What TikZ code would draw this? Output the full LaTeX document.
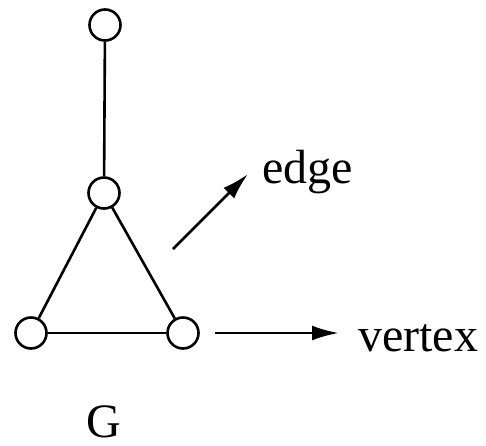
\documentclass[tikz,border=0pt]{standalone}
\usepackage{fontspec}
\setmainfont{Liberation Serif}
\usetikzlibrary{arrows.meta, positioning}

\tikzset{
  vertexnode/.style={circle, draw, line width=2.6pt, fill=white, minimum size=31pt, inner sep=0pt},
  graphedge/.style={line width=2.6pt},
  pointer/.style={line width=2.8pt, -{Latex[length=27pt, width=15pt]}},
  tag/.style={font=\fontsize{48}{50}\selectfont, inner sep=0pt}
}

\begin{document}
\begin{tikzpicture}[x=1pt, y=-1pt]
  \useasboundingbox (0,0) rectangle (486,445);
  % the graph
  \node[vertexnode] (vtop) at (105,25) {};
  \node[vertexnode] (vmid) at (104,193) {};
  \node[vertexnode] (vleft) at (31,333) {};
  \node[vertexnode] (vright) at (183,333) {};
  \draw[graphedge] (vtop) -- (vmid);
  \draw[graphedge] (vmid) -- (vleft);
  \draw[graphedge] (vmid) -- (vright);
  \draw[graphedge] (vleft) -- (vright);
  % labels with pointers
  \coordinate (edgefrom) at (173,249);
  \coordinate (edgeto) at (248,174);
  \coordinate (vertexfrom) at (215,333);
  \coordinate (vertexto) at (339,333);
  \draw[pointer] (edgefrom) -- (edgeto);
  \draw[pointer] (vertexfrom) -- (vertexto);
  \node[tag, anchor=base west] (edgelabel) at (262,183) {edge};
  \node[tag, anchor=base west] (vertexlabel) at (358,351) {vertex};
  \node[tag, anchor=base] (glabel) at (104,437) {G};
\end{tikzpicture}
\end{document}
